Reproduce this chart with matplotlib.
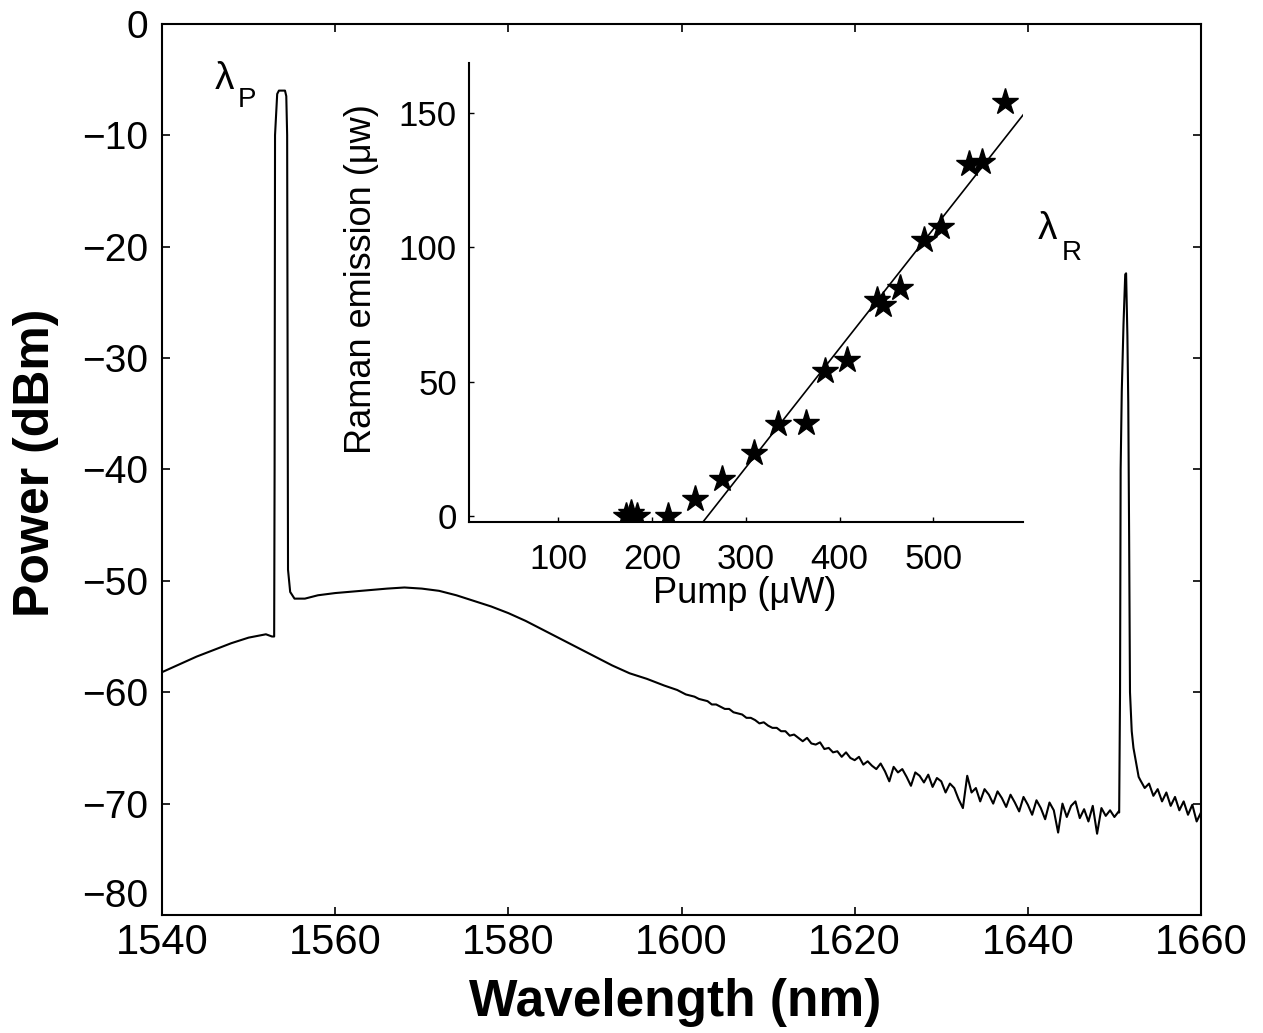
import matplotlib

matplotlib.use("Agg")
import matplotlib.pyplot as plt
import numpy as np

plt.rcParams["font.family"] = ["Liberation Sans", "DejaVu Sans"]

# --- main spectrum ---------------------------------------------------------
# smooth part, including the pump line (nm, dBm)
wl_smooth = [1540.0, 1542.0, 1544.0, 1546.0, 1548.0, 1550.0, 1552.0, 1552.7,
             1552.95, 1553.0, 1553.05, 1553.3, 1553.5, 1554.2, 1554.35, 1554.45,
             1554.55, 1554.8, 1555.3, 1556.5, 1558.0, 1560.0, 1563.0, 1566.0,
             1568.0, 1570.0, 1572.0, 1574.0, 1576.0, 1578.0, 1580.0, 1582.0,
             1584.0, 1586.0, 1588.0, 1590.0, 1592.0, 1594.0, 1596.0, 1598.0,
             1599.5]
dbm_smooth = [-58.2, -57.5, -56.8, -56.2, -55.6, -55.1, -54.8, -55.0,
              -55.0, -40.0, -10.0, -6.3, -6.0, -6.0, -6.5, -10.0,
              -49.0, -51.0, -51.6, -51.6, -51.3, -51.1, -50.9, -50.7,
              -50.6, -50.7, -50.9, -51.3, -51.8, -52.3, -52.9, -53.6,
              -54.4, -55.2, -56.0, -56.8, -57.6, -58.3, -58.8, -59.4,
              -59.8]

# noisy floor, one reading every 0.5 nm from 1600 to 1650.5 nm
tail_start = 1600.0
tail_step = 0.5
tail_dbm = [
    -60.0, -60.2, -60.3, -60.4, -60.6, -60.7, -60.8, -61.1, -61.1, -61.3,
    -61.5, -61.5, -61.8, -61.9, -62.0, -62.3, -62.3, -62.5, -62.8, -62.7,
    -63.0, -63.2, -63.2, -63.5, -63.5, -63.9, -63.8, -64.1, -64.4, -64.1,
    -64.6, -64.7, -64.5, -65.1, -65.0, -65.4, -65.3, -65.8, -65.4, -65.9,
    -66.1, -65.8, -66.5, -66.2, -66.6, -66.9, -66.4, -67.1, -68.0, -66.7,
    -67.2, -66.9, -67.6, -68.4, -67.2, -67.5, -68.1, -67.4, -68.5, -67.7,
    -68.0, -69.0, -68.2, -68.6, -69.6, -70.4, -67.5, -69.0, -68.6, -69.8,
    -68.7, -69.2, -70.0, -68.9, -69.5, -70.3, -69.2, -69.9, -70.7, -69.4,
    -70.1, -71.0, -69.7, -70.4, -71.4, -69.9, -70.6, -72.6, -70.0, -71.2,
    -70.2, -69.8, -71.3, -70.5, -71.6, -70.2, -72.7, -70.4, -71.1, -70.6,
    -71.2, -70.7,
]

# Raman line
wl_raman = [1650.55, 1650.65, 1650.72, 1650.85, 1651.05, 1651.25, 1651.35,
            1651.5, 1651.6, 1651.7, 1651.8, 1652.0, 1652.2, 1652.5, 1652.8]
dbm_raman = [-70.8, -60.0, -40.0, -33.0, -27.0, -22.5, -22.4,
             -28.0, -34.0, -46.0, -60.0, -63.5, -65.0, -66.3, -67.6]

# floor after the Raman line, every 0.5 nm from 1653 nm
post_start = 1653.0
post_dbm = [-67.9, -68.6, -68.2, -69.3, -68.7, -69.8, -69.0, -70.2,
            -69.4, -70.6, -69.8, -71.0, -70.1, -71.6, -70.8]

# --- inset: Raman emission vs pump --------------------------------------------
pump_uw = [172, 178, 184, 217, 246, 275, 309, 334, 364, 384, 408,
           440, 446, 464, 490, 508, 538, 552, 576]
raman_uw = [0.0, 1.0, 0.0, 0.0, 6.4, 13.8, 23.5, 34.4, 34.8, 54.0, 58.0,
            80.3, 78.5, 84.9, 102.8, 107.6, 130.8, 131.8, 154.0]
fit_pump = [254, 596]
fit_raman = [-2.3, 149.3]

wl_tail = tail_start + tail_step * np.arange(len(tail_dbm))
wl_post = post_start + tail_step * np.arange(len(post_dbm))
wavelength = np.concatenate([wl_smooth, wl_tail, wl_raman, wl_post])
power = np.concatenate([dbm_smooth, tail_dbm, dbm_raman, post_dbm])

fig = plt.figure(figsize=(12.63, 10.33), dpi=100)
ax = fig.add_axes([0.1283, 0.1142, 0.8226, 0.8628])
ax.plot(wavelength, power, color="black", lw=1.5)
ax.set_xlim(1540, 1660)
ax.set_ylim(-80, 0)

xt = list(range(1540, 1661, 20))
ax.set_xticks(xt, [str(v) for v in xt], fontsize=30)
yt = list(range(-80, 1, 10))
ax.set_yticks(yt, [str(v).replace("-", "\u2212") for v in yt], fontsize=28)
ax.tick_params(direction="in", length=6, width=1.2, top=True, right=True)
ax.tick_params(axis="x", pad=6)
ax.tick_params(axis="y", pad=10)
# the bottom label sits just above the corner, clear of "1540"
ax.get_yticklabels()[0].set_va("bottom")
for sp in ax.spines.values():
    sp.set_linewidth(1.5)

ax.set_xlabel("Wavelength (nm)", fontsize=37, fontweight="bold", va="center")
ax.xaxis.set_label_coords(0.4937, -0.0976)
ax.set_ylabel("Power (dBm)", fontsize=36, fontweight="bold", va="center")
ax.yaxis.set_label_coords(-0.1213, 0.507)

# line labels
ax.text(1546.1, -5.85, "\u03bb", fontsize=28, ha="left", va="baseline")
ax.text(1548.8, -7.5, "P", fontsize=20, ha="left", va="baseline")
ax.text(1641.2, -19.3, "\u03bb", fontsize=28, ha="left", va="baseline")
ax.text(1643.9, -21.2, "R", fontsize=20, ha="left", va="baseline")

ins = fig.add_axes([0.3716, 0.4944, 0.4386, 0.4443])
ins.set_facecolor("none")
ins.plot(fit_pump, fit_raman, color="black", lw=1.2)
ins.plot(pump_uw, raman_uw, ls="none", marker="*", ms=20, color="black")
ins.set_xlim(5, 596)
ins.set_ylim(-2.3, 168.4)
ins.set_xticks([100, 200, 300, 400, 500])
ins.set_yticks([0, 50, 100, 150])
ins.tick_params(direction="in", length=3.5, width=1.0, labelsize=25)
ins.tick_params(axis="x", pad=15)
ins.tick_params(axis="y", pad=9)
ins.spines["top"].set_visible(False)
ins.spines["right"].set_visible(False)
ins.spines["left"].set_linewidth(1.5)
ins.spines["bottom"].set_linewidth(1.5)
ins.set_xlabel("Pump (\u03bcW)", fontsize=26, va="center")
ins.xaxis.set_label_coords(0.4977, -0.156)
ins.set_ylabel("Raman emission (\u03bcw)", fontsize=26, va="center")
ins.yaxis.set_label_coords(-0.1955, 0.531)

fig.savefig("out.png", dpi=100)
